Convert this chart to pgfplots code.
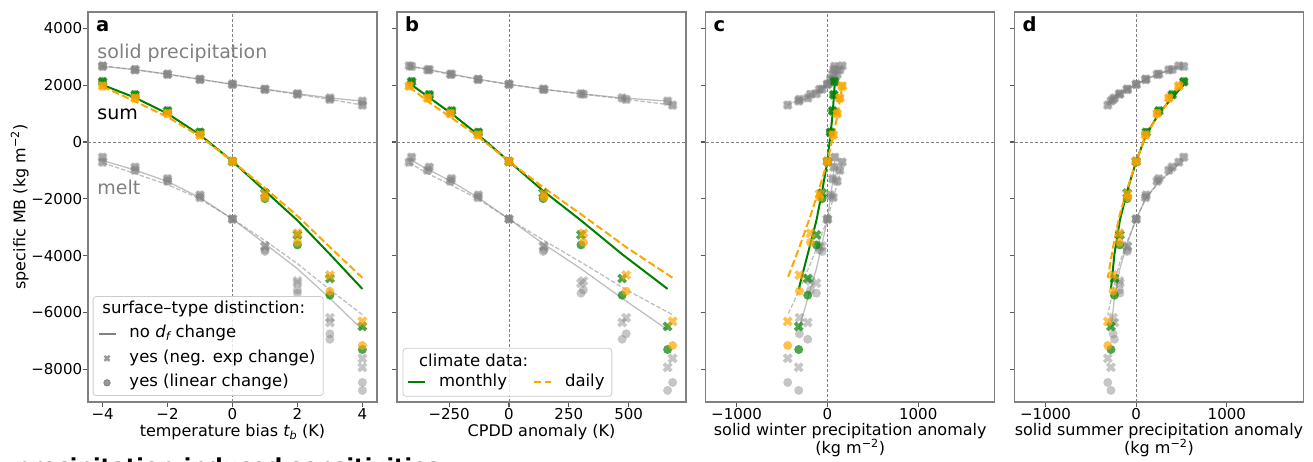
\documentclass[border=0pt]{standalone}
\usepackage{fontspec}
\setmainfont{DejaVu Sans}
\usepackage{pgfplots}
\pgfplotsset{compat=1.18}
\usepackage{pgfplotstable}

\definecolor{mgreen}{HTML}{008000}
\definecolor{morange}{HTML}{FFA500}
\definecolor{mgray}{HTML}{808080}
\definecolor{legframe}{HTML}{CCCCCC}

\newcommand\tickfont{\fontsize{15}{18}\selectfont}
\newcommand\labfont{\fontsize{16}{17.5}\selectfont}
\newcommand\legfont{\fontsize{16.5}{19}\selectfont}
\newcommand\annfont{\fontsize{19}{22}\selectfont}
\newcommand\letfont{\fontsize{19.5}{22}\selectfont\bfseries}
\newcommand\bigfont{\fontsize{22}{26}\selectfont\bfseries}

% filled "X" marker (like matplotlib's 'X')
\pgfdeclareplotmark{Xf}{%
  \begingroup
  \pgftransformrotate{45}%
  \pgfpathmoveto{\pgfqpoint{0.35\pgfplotmarksize}{\pgfplotmarksize}}%
  \pgfpathlineto{\pgfqpoint{0.35\pgfplotmarksize}{0.35\pgfplotmarksize}}%
  \pgfpathlineto{\pgfqpoint{\pgfplotmarksize}{0.35\pgfplotmarksize}}%
  \pgfpathlineto{\pgfqpoint{\pgfplotmarksize}{-0.35\pgfplotmarksize}}%
  \pgfpathlineto{\pgfqpoint{0.35\pgfplotmarksize}{-0.35\pgfplotmarksize}}%
  \pgfpathlineto{\pgfqpoint{0.35\pgfplotmarksize}{-\pgfplotmarksize}}%
  \pgfpathlineto{\pgfqpoint{-0.35\pgfplotmarksize}{-\pgfplotmarksize}}%
  \pgfpathlineto{\pgfqpoint{-0.35\pgfplotmarksize}{-0.35\pgfplotmarksize}}%
  \pgfpathlineto{\pgfqpoint{-\pgfplotmarksize}{-0.35\pgfplotmarksize}}%
  \pgfpathlineto{\pgfqpoint{-\pgfplotmarksize}{0.35\pgfplotmarksize}}%
  \pgfpathlineto{\pgfqpoint{-0.35\pgfplotmarksize}{0.35\pgfplotmarksize}}%
  \pgfpathlineto{\pgfqpoint{-0.35\pgfplotmarksize}{\pgfplotmarksize}}%
  \pgfpathclose
  \pgfusepathqfill
  \endgroup
}

% t: temperature bias; C: CPDD anomaly; W: winter solid precip anomaly; U: summer solid precip anomaly
% m = monthly, d = daily; P = solid precipitation, M = melt, S = sum
% X = neg. exp change, O = linear change; plain = no d_f change
\pgfplotstableread{
t   Cm    Cd    Wm    Wd    Um    Ud    Pm    Pd    Mm     Md     MmX    MmO    MdX    MdO    Sm     Sd     SmX    SmO    SdX    SdO
-4  -407  -417  80    162   525   470   2660  2680  -650   -730   -536   -536   -709   -709   2010   1950   2124   2124   1971   1971
-3  -333  -340  70    136   397   360   2550  2540  -990   -1110  -886   -886   -994   -994   1560   1430   1664   1664   1546   1546
-2  -240  -245  58    107   250   231   2390  2380  -1390  -1500  -1293  -1293  -1378  -1378  1000   880    1097   1097   1002   1002
-1  -128  -130  33    63    110   103   2210  2200  -1960  -2000  -1867  -1867  -1952  -1952  250    200    343    343    248    248
0   0     0     0     0     0     0     2030  2030  -2710  -2710  -2713  -2713  -2713  -2713  -680   -680   -683   -683   -683   -683
1   143   147   -58   -88   -99   -95   1860  1850  -3580  -3470  -3660  -3853  -3680  -3800  -1720  -1620  -1800  -1993  -1830  -1950
2   301   311   -121  -187  -180  -185  1700  1680  -4460  -4280  -4967  -5322  -4890  -5209  -2760  -2600  -3267  -3622  -3210  -3529
3   473   490   -217  -308  -240  -255  1550  1500  -5500  -5200  -6353  -6942  -6184  -6750  -3950  -3700  -4803  -5392  -4684  -5250
4   663   684   -316  -437  -278  -313  1440  1300  -6610  -6080  -7930  -8743  -7613  -8462  -5170  -4780  -6490  -7303  -6313  -7162
}\data

\pgfplotsset{
  panel/.style={
    scale only axis, width=289pt, height=390pt, anchor=south west,
    ymin=-9150, ymax=4575,
    ytick={-8000,-6000,-4000,-2000,0,2000,4000},
    axis line style={draw=mgray, line width=1.1pt},
    tick align=outside, xtick pos=left, ytick pos=left,
    major tick length=5pt,
    every tick/.style={draw=black!65, line width=1.1pt},
    tick label style={font=\tickfont, text=black},
    yticklabel style={anchor=east, inner sep=0pt, xshift=-0.7pt},
    xticklabel style={anchor=north, inner sep=0pt, yshift=-1pt},
    label style={font=\labfont},
    xlabel style={at={(axis description cs:0.5,-0.0897)}, anchor=base, align=center},
    legend cell align=left,
  },
  twoline/.style={xlabel style={at={(axis description cs:0.5,-0.1333)}, anchor=base, align=center}},
  gls/.style={forget plot, no markers, draw=mgray, draw opacity=0.5, line width=1.3pt},
  gld/.style={gls, dash pattern=on 4.5pt off 2pt},
  gX/.style={forget plot, only marks, color=mgray, mark=Xf, mark size=5.2pt, mark options={solid, fill=mgray, fill opacity=0.45}},
  gO/.style={forget plot, only marks, color=mgray, mark=*, mark size=4.5pt, mark options={solid, fill=mgray, fill opacity=0.45, draw opacity=0}},
  grX/.style={forget plot, only marks, color=mgreen, mark=Xf, mark size=5.2pt, mark options={solid, fill=mgreen, fill opacity=0.7}},
  grO/.style={forget plot, only marks, color=mgreen, mark=*, mark size=4.5pt, mark options={solid, fill=mgreen, fill opacity=0.7, draw opacity=0}},
  orX/.style={forget plot, only marks, color=morange, mark=Xf, mark size=5.2pt, mark options={solid, fill=morange, fill opacity=0.7}},
  orO/.style={forget plot, only marks, color=morange, mark=*, mark size=4.5pt, mark options={solid, fill=morange, fill opacity=0.7, draw opacity=0}},
  grL/.style={forget plot, no markers, draw=mgreen, line width=2pt},
  orL/.style={forget plot, no markers, draw=morange, line width=2pt, dash pattern=on 7.4pt off 3.2pt},
  refline/.style={forget plot, no markers, draw=mgray, line width=0.9pt, dash pattern=on 3pt off 2pt},
}

% #1 monthly x column, #2 daily x column
\newcommand\panelplots[2]{%
  \addplot[gls] table[x=#1,y=Pm]{\data};
  \addplot[gld] table[x=#2,y=Pd]{\data};
  \addplot[gls] table[x=#1,y=Mm]{\data};
  \addplot[gld] table[x=#2,y=Md]{\data};
  \addplot[gX] table[x=#1,y=Pm]{\data};
  \addplot[gO] table[x=#1,y=Pm]{\data};
  \addplot[gX] table[x=#2,y=Pd]{\data};
  \addplot[gO] table[x=#2,y=Pd]{\data};
  \addplot[gX] table[x=#1,y=MmX]{\data};
  \addplot[gO] table[x=#1,y=MmO]{\data};
  \addplot[gX] table[x=#2,y=MdX]{\data};
  \addplot[gO] table[x=#2,y=MdO]{\data};
  \addplot[grX] table[x=#1,y=SmX]{\data};
  \addplot[grO] table[x=#1,y=SmO]{\data};
  \addplot[orX] table[x=#2,y=SdX]{\data};
  \addplot[orO] table[x=#2,y=SdO]{\data};
  \addplot[grL] table[x=#1,y=Sm]{\data};
  \addplot[orL] table[x=#2,y=Sd]{\data};
}

\begin{document}
\begin{tikzpicture}[x=1pt,y=1pt]

% ---------------- panel a ----------------
\begin{axis}[panel, at={(88pt,59pt)},
  xmin=-4.45, xmax=4.45,
  xtick={-4,-2,0,2,4}, xticklabels={−4,−2,0,2,4},
  yticklabels={−8000,−6000,−4000,−2000,0,2000,4000},
  xlabel={temperature bias {\itshape t}\textsubscript{\itshape b} (K)},
  ylabel={specific MB (kg m\textsuperscript{−2})},
  ylabel style={at={(axis description cs:-0.2163,0.5)}, anchor=base},
  legend style={at={(0.0163,0.0154)}, anchor=south west, font=\legfont,
    draw=legframe, line width=0.8pt, rounded corners=3pt, fill=white,
    fill opacity=0.8, text opacity=1, inner xsep=4.5pt, inner ysep=0.5pt,
    row sep=0pt, column sep=9.7pt,
    nodes={inner xsep=3.3pt, inner ysep=4.25pt, text height=12pt, text depth=4pt}},
]
\addplot[refline] coordinates {(0,-9150) (0,4575)};
\addplot[refline] coordinates {(-4.45,0) (4.45,0)};
\panelplots{t}{t}
\addlegendimage{empty legend}
\addlegendentry{\hspace{-27pt}surface–type distinction:}
\addlegendimage{mgray, line width=1.8pt}
\addlegendentry{no {\itshape d}\textsubscript{\itshape f} change}
\addlegendimage{only marks, mark=Xf, mark size=3.6pt, mark options={fill=mgray}}
\addlegendentry{yes (neg. exp change)}
\addlegendimage{only marks, mark=*, mark size=3.2pt, mark options={fill=mgray, draw=mgray}}
\addlegendentry{yes (linear change)}
\node[anchor=base west, inner sep=0pt, font=\letfont] at (rel axis cs:0.027,0.950) {a};
\node[anchor=base west, inner sep=0pt, font=\annfont, text=mgray] at (axis cs:-4.164,2945) {solid precipitation};
\node[anchor=base west, inner sep=0pt, font=\annfont, text=black] at (axis cs:-4.164,800) {sum};
\node[anchor=base west, inner sep=0pt, font=\annfont, text=mgray] at (axis cs:-4.164,-1840) {melt};
\end{axis}

% ---------------- panel b ----------------
\begin{axis}[panel, at={(397pt,59pt)},
  xmin=-468, xmax=740,
  xtick={-250,0,250,500}, xticklabels={−250,0,250,500},
  yticklabels={},
  xlabel={CPDD anomaly (K)},
  legend columns=2,
  legend style={at={(0.0197,0.0136)}, anchor=south west, font=\legfont,
    draw=legframe, line width=0.8pt, rounded corners=3pt, fill=white,
    fill opacity=0.8, text opacity=1, inner xsep=4pt, inner ysep=4pt,
    row sep=0pt, column sep=9.7pt,
    /tikz/every even column/.append style={column sep=1.5pt},
    nodes={inner xsep=3.3pt, inner ysep=2pt, text height=12pt, text depth=4pt}},
]
\addplot[refline] coordinates {(0,-9150) (0,4575)};
\addplot[refline] coordinates {(-468,0) (740,0)};
\panelplots{Cm}{Cd}
\addlegendimage{empty legend}
\addlegendentry{\hspace{-20pt}climate data:}
\addlegendimage{empty legend}
\addlegendentry{}
\addlegendimage{mgreen, line width=2pt}
\addlegendentry{monthly}
\addlegendimage{morange, line width=2pt, dash pattern=on 7.4pt off 3.2pt}
\addlegendentry{daily}
\node[anchor=base west, inner sep=0pt, font=\letfont] at (rel axis cs:0.027,0.950) {b};
\end{axis}

% ---------------- panel c ----------------
\begin{axis}[panel, twoline, at={(705.7pt,59pt)},
  xmin=-1340, xmax=1842,
  xtick={-1000,0,1000}, xticklabels={−1000,0,1000},
  yticklabels={},
  xlabel={solid winter precipitation anomaly\\(kg m\textsuperscript{−2})},
]
\addplot[refline] coordinates {(0,-9150) (0,4575)};
\addplot[refline] coordinates {(-1340,0) (1842,0)};
\panelplots{Wm}{Wd}
\node[anchor=base west, inner sep=0pt, font=\letfont] at (rel axis cs:0.027,0.950) {c};
\end{axis}

% ---------------- panel d ----------------
\begin{axis}[panel, twoline, at={(1014.5pt,59pt)},
  xmin=-1342, xmax=1846,
  xtick={-1000,0,1000}, xticklabels={−1000,0,1000},
  yticklabels={},
  xlabel={solid summer precipitation anomaly\\(kg m\textsuperscript{−2})},
]
\addplot[refline] coordinates {(0,-9150) (0,4575)};
\addplot[refline] coordinates {(-1342,0) (1846,0)};
\panelplots{Um}{Ud}
\node[anchor=base west, inner sep=0pt, font=\letfont] at (rel axis cs:0.027,0.950) {d};
\end{axis}

\node[anchor=base west, inner sep=0pt, font=\bigfont] at (15pt,-13pt) {precipitation-induced sensitivities};

\pgfresetboundingbox
\path[use as bounding box] (0pt,0pt) rectangle (1313pt,461pt);
\end{tikzpicture}
\end{document}
